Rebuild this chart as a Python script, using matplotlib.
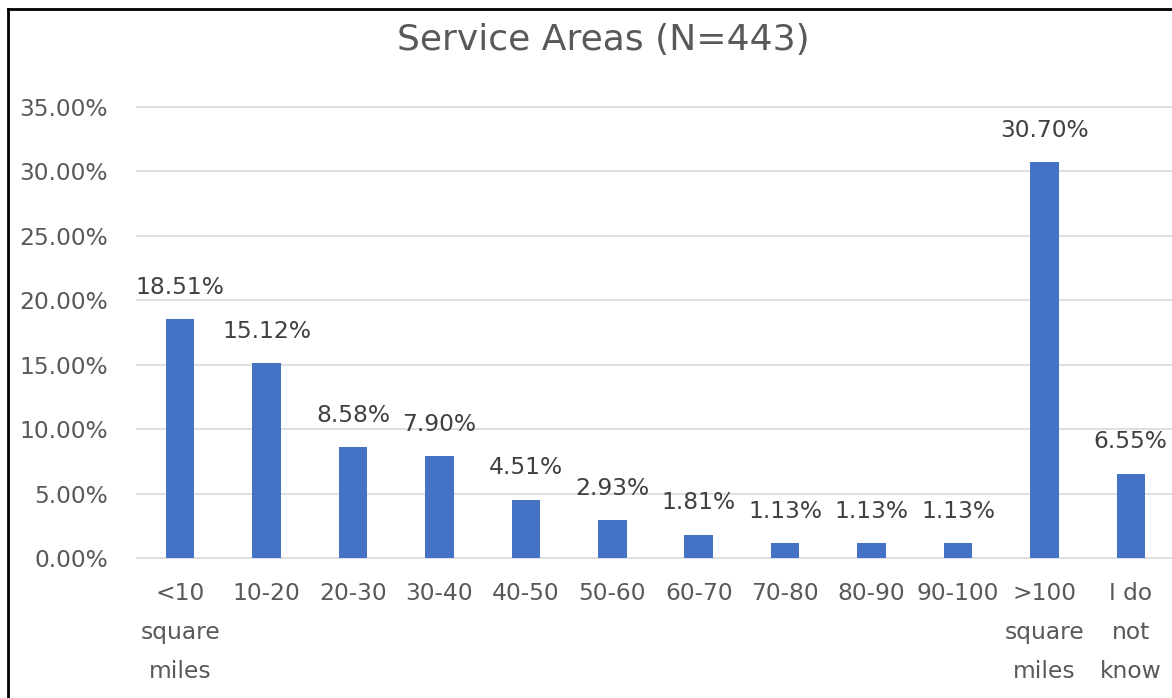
import matplotlib
matplotlib.use("Agg")
import matplotlib.pyplot as plt
from matplotlib.lines import Line2D

categories = ["<10\nsquare\nmiles", "10-20", "20-30", "30-40", "40-50", "50-60",
              "60-70", "70-80", "80-90", "90-100", ">100\nsquare\nmiles", "I do\nnot\nknow"]
values = [18.51, 15.12, 8.58, 7.90, 4.51, 2.93, 1.81, 1.13, 1.13, 1.13, 30.70, 6.55]
yticks = [0, 5, 10, 15, 20, 25, 30, 35]
title = "Service Areas (N=443)"

W, H = 1172, 698
fig = plt.figure(figsize=(W / 100, H / 100), dpi=100)
fig.patch.set_facecolor("white")
ax = fig.add_axes([137 / W, 140 / H, 1037 / W, 451 / H])

txt = "#595959"
fs = 16.8
x = list(range(len(categories)))
ax.bar(x, values, width=0.33, color="#4472C4", zorder=3)
ax.set_xlim(-0.5, len(categories) - 0.5)
ax.set_ylim(0, 35)
ax.set_yticks(yticks)
ax.set_yticklabels([f"{v:.2f}%" for v in yticks])
ax.set_xticks(x)
ax.set_xticklabels(categories, linespacing=1.9)
ax.grid(axis="y", color="#d9d9d9", linewidth=1.2, zorder=0)
for gl in ax.yaxis.get_gridlines():
    gl.set_clip_on(False)
for s in ax.spines.values():
    s.set_visible(False)
ax.tick_params(axis="y", length=0, pad=21, labelsize=fs, labelcolor=txt)
ax.tick_params(axis="x", length=0, pad=17, labelsize=fs, labelcolor=txt)

for xi, v in zip(x, values):
    ax.annotate(f"{v:.2f}%", (xi, v), xytext=(0, 23), textcoords="offset points",
                ha="center", va="center", fontsize=fs, color="#404040")

fig.text(603 / W, 1 - 40 / H, title, ha="center", va="center", fontsize=26, color=txt)

fig.add_artist(Line2D([7.5 / W, 7.5 / W], [0, 1 - 8.5 / H], color="black", linewidth=2,
                      transform=fig.transFigure))
fig.add_artist(Line2D([7.5 / W, 1], [1 - 8.5 / H, 1 - 8.5 / H], color="black", linewidth=2,
                      transform=fig.transFigure))

fig.savefig("out.png", dpi=100)
